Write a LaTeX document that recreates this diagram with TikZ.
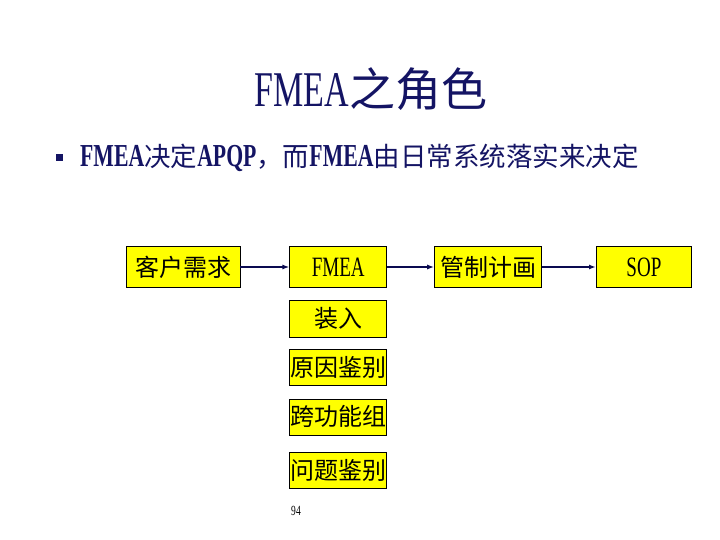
\documentclass[tikz,border=0pt]{standalone}
\usepackage{fontspec}
\setmainfont{Liberation Serif}
\newfontfamily\cjk{Noto Sans CJK SC}
\newfontfamily\narrow[FakeStretch=0.68]{Liberation Serif}
\usetikzlibrary{arrows.meta,positioning}
\definecolor{titlenavy}{RGB}{20,20,100}
\definecolor{linenavy}{RGB}{10,10,80}
\definecolor{boxyellow}{RGB}{255,255,0}
\tikzset{
  >={Latex[length=7pt,width=5pt]},
  link/.style={->, line width=2pt, draw=linenavy},
  stagebox/.style={shape=rectangle, draw=black, line width=0.8pt, fill=boxyellow, minimum height=41pt, inner sep=0pt, font=\fontsize{24}{28}\selectfont},
  stepbox/.style={stagebox, minimum height=36pt, minimum width=97pt},
  latinbox/.style={font=\narrow\fontsize{28}{32}\selectfont}
}

\begin{document}
\begin{tikzpicture}[x=1pt, y=-1pt]
  \useasboundingbox[fill=white] (0,0) rectangle (720,540);

  \node[text=titlenavy, inner sep=0pt] (title) at (371,89)
    {{\narrow\fontsize{50}{54}\selectfont FMEA}{\cjk\fontsize{46}{50}\selectfont 之角色}};

  \node[fill=titlenavy, minimum size=7pt, inner sep=0pt] (bullet) at (59,158) {};
  \node[text=titlenavy, anchor=west, inner sep=0pt] (claim) at (80,158)
    {\fontsize{26.5}{30}\selectfont{\narrow\bfseries\fontsize{32}{34}\selectfont FMEA}{\cjk 决定}{\narrow\bfseries\fontsize{32}{34}\selectfont APQP}{\cjk ，而}{\narrow\bfseries\fontsize{32}{34}\selectfont FMEA}{\cjk 由日常系统落实来决定}};

  \node[stagebox, minimum width=114pt] (cust) at (183,267) {\cjk 客户需求};
  \node[stagebox, latinbox, minimum width=97pt, right=49pt of cust] (fmea) {FMEA};
  \node[stagebox, minimum width=107pt, right=47pt of fmea] (ctrl) {\cjk 管制计画};
  \node[stagebox, latinbox, minimum width=95pt, right=54pt of ctrl] (sop) {SOP};

  \node[stepbox, minimum height=37pt, below=12pt of fmea] (load) {\cjk 装入};
  \node[stepbox, below=11pt of load] (cause) {\cjk 原因鉴别};
  \node[stepbox, below=13pt of cause] (team) {\cjk 跨功能组};
  \node[stepbox, below=17pt of team] (issue) {\cjk 问题鉴别};

  \draw[link] (cust.east) -- (fmea.west);
  \draw[link] (fmea.east) -- (ctrl.west);
  \draw[link] (ctrl.east) -- (sop.west);

  \node[font=\narrow\fontsize{14}{16}\selectfont] (pagenum) at (296,511) {94};
\end{tikzpicture}
\end{document}
